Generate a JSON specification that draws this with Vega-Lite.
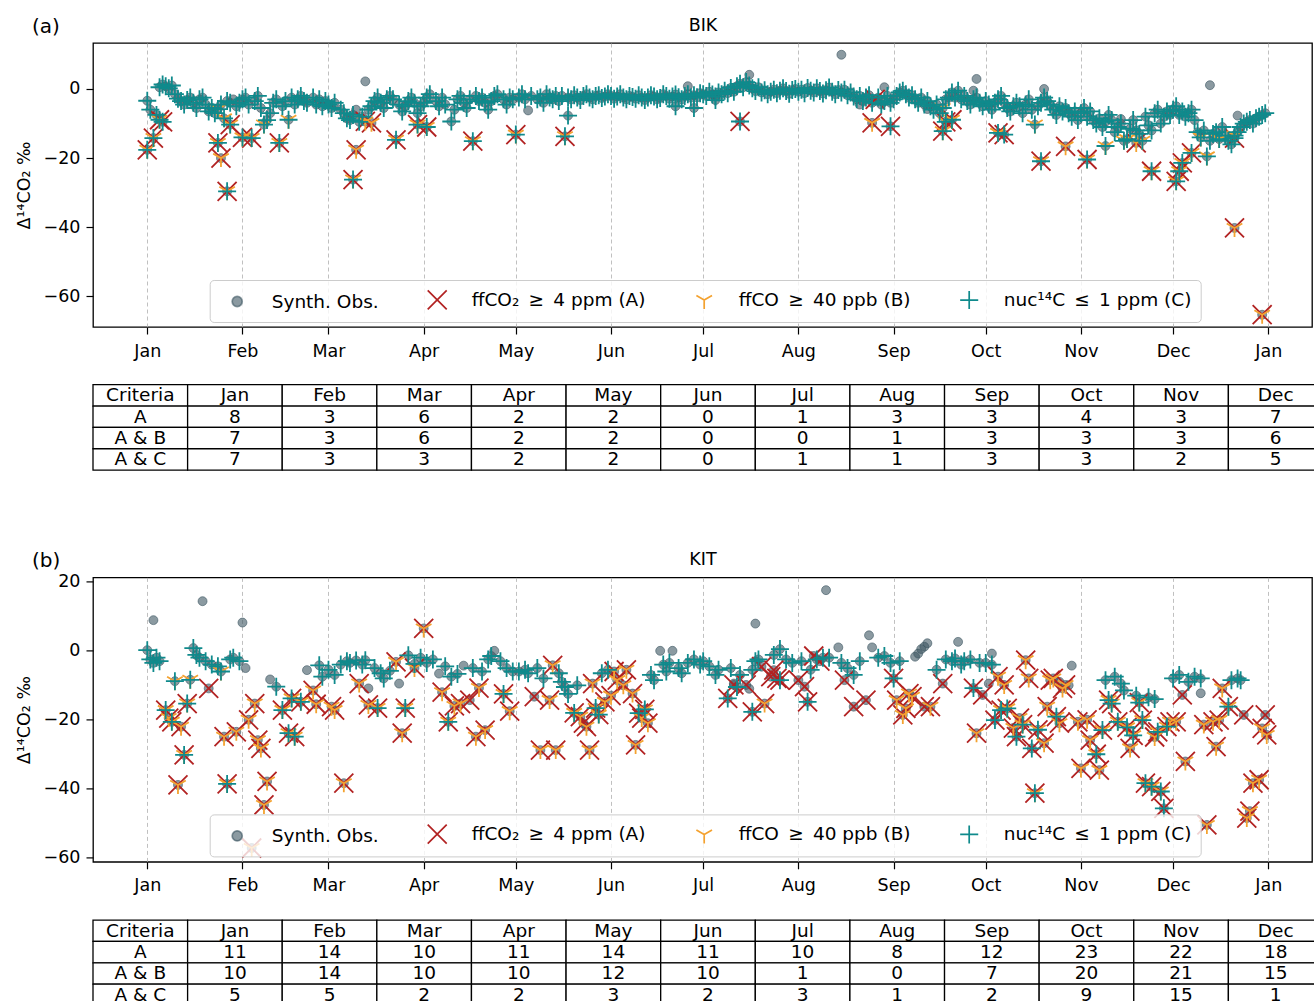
{
  "$schema": "https://vega.github.io/schema/vega-lite/v6.json",
  "background": "white",
  "padding": {"left": 14, "top": 15, "right": 0, "bottom": 0},
  "config": {
    "font": "DejaVu Sans",
    "view": {"stroke": "black", "strokeWidth": 1.3},
    "axis": {"labelFont": "DejaVu Sans", "labelFontSize": 17.5, "labelColor": "black", "titleFont": "DejaVu Sans", "titleFontSize": 17.5, "titleFontWeight": "normal", "titleColor": "black", "tickColor": "black", "tickSize": 7, "tickWidth": 1.2, "domain": false},
    "title": {"font": "DejaVu Sans", "fontSize": 20, "fontWeight": "normal", "color": "black"},
    "legend": {"orient": "none", "legendX": 116.7, "legendY": 237, "direction": "horizontal", "columns": 4, "columnPadding": 40, "symbolOffset": 8, "labelOffset": 24, "symbolSize": 361, "symbolStrokeWidth": 1.7, "symbolOpacity": 1, "labelFontSize": 18.5, "labelFont": "DejaVu Sans", "labelColor": "black", "labelLimit": 400, "padding": 9, "fillColor": "rgba(255,255,255,0.8)", "strokeColor": "#cccccc", "cornerRadius": 4}
  },
  "datasets": {
    "lg": [{"s": "Synth. Obs."}, {"s": "ffCO₂\u2002≥\u20024 ppm (A)"}, {"s": "ffCO\u2002≥\u200240 ppb (B)"}, {"s": "nuc¹⁴C\u2002≤\u20021 ppm (C)"}],
    "bik": [
      {"t":"2019-01-01","v":-3.4,"f":"C"},{"t":"2019-01-01","v":-17.6,"f":"ABC"},{"t":"2019-01-02","v":-6.0,"f":"C"},{"t":"2019-01-03","v":-14.2,"f":"ABC"},{"t":"2019-01-04","v":-7.5,"f":"C"},{"t":"2019-01-05","v":-8.9,"f":"ABC"},{"t":"2019-01-05","v":0.5,"f":"C"},{"t":"2019-01-06","v":-9.5,"f":"AC"},{"t":"2019-01-06","v":1.3,"f":"C"},{"t":"2019-01-07","v":0.8,"f":"C"},{"t":"2019-01-08","v":0.2,"f":"C"},{"t":"2019-01-09","v":1.0,"f":"C"},{"t":"2019-01-10","v":-1.5,"f":"C"},{"t":"2019-01-11","v":-2.8,"f":"C"},{"t":"2019-01-12","v":-3.5,"f":"C"},{"t":"2019-01-13","v":-4.5,"f":"C"},{"t":"2019-01-14","v":-3.2,"f":"C"},{"t":"2019-01-15","v":-2.5,"f":"C"},{"t":"2019-01-16","v":-4.0,"f":"C"},{"t":"2019-01-17","v":-5.5,"f":"C"},{"t":"2019-01-18","v":-3.0,"f":"C"},{"t":"2019-01-19","v":-2.5,"f":"C"},{"t":"2019-01-20","v":-4.5,"f":"C"},{"t":"2019-01-21","v":-6.5,"f":"C"},{"t":"2019-01-22","v":-5.5,"f":"C"},{"t":"2019-01-23","v":-7.0,"f":"C"},{"t":"2019-01-24","v":-15.6,"f":"ABC"},{"t":"2019-01-24","v":-5.8,"f":"BC"},{"t":"2019-01-25","v":-20.0,"f":"AB"},{"t":"2019-01-25","v":-4.5,"f":"C"},{"t":"2019-01-26","v":-8.5,"f":"BC"},{"t":"2019-01-27","v":-29.6,"f":"ABC"},{"t":"2019-01-27","v":-3.5,"f":"C"},{"t":"2019-01-28","v":-10.3,"f":"ABC"},{"t":"2019-01-28","v":-4.0,"f":"C"},{"t":"2019-01-29","v":-3.0,"f":""},{"t":"2019-01-30","v":-5.0,"f":"C"},{"t":"2019-01-31","v":-4.0,"f":"C"},
      {"t":"2019-02-01","v":-14.0,"f":"ABC"},{"t":"2019-02-01","v":-3.0,"f":"C"},{"t":"2019-02-02","v":-2.5,"f":"C"},{"t":"2019-02-03","v":-4.5,"f":"C"},{"t":"2019-02-04","v":-14.2,"f":"ABC"},{"t":"2019-02-05","v":-3.5,"f":"C"},{"t":"2019-02-06","v":-2.0,"f":"C"},{"t":"2019-02-07","v":-5.5,"f":"C"},{"t":"2019-02-08","v":-10.3,"f":"BC"},{"t":"2019-02-09","v":-9.0,"f":"C"},{"t":"2019-02-10","v":-7.0,"f":"C"},{"t":"2019-02-11","v":-4.0,"f":"C"},{"t":"2019-02-12","v":-3.0,"f":"C"},{"t":"2019-02-13","v":-15.6,"f":"ABC"},{"t":"2019-02-14","v":-5.0,"f":"C"},{"t":"2019-02-15","v":-3.5,"f":"C"},{"t":"2019-02-16","v":-8.9,"f":"BC"},{"t":"2019-02-17","v":-2.5,"f":"C"},{"t":"2019-02-18","v":-4.5,"f":"C"},{"t":"2019-02-19","v":-3.0,"f":"C"},{"t":"2019-02-20","v":-2.0,"f":"C"},{"t":"2019-02-21","v":-3.5,"f":"C"},{"t":"2019-02-22","v":-4.0,"f":"C"},{"t":"2019-02-24","v":-2.5,"f":"C"},{"t":"2019-02-25","v":-4.5,"f":"C"},{"t":"2019-02-26","v":-3.0,"f":"C"},{"t":"2019-02-27","v":-5.0,"f":"C"},{"t":"2019-02-28","v":-3.5,"f":"C"},
      {"t":"2019-03-01","v":-4.5,"f":"C"},{"t":"2019-03-02","v":-5.5,"f":"C"},{"t":"2019-03-03","v":-4.0,"f":"C"},{"t":"2019-03-05","v":-6.0,"f":"C"},{"t":"2019-03-06","v":-7.0,"f":"C"},{"t":"2019-03-07","v":-8.5,"f":"C"},{"t":"2019-03-08","v":-9.0,"f":"C"},{"t":"2019-03-09","v":-26.2,"f":"ABC"},{"t":"2019-03-09","v":-7.5,"f":"C"},{"t":"2019-03-10","v":-17.6,"f":"AB"},{"t":"2019-03-10","v":-6.0,"f":""},{"t":"2019-03-11","v":-9.5,"f":"C"},{"t":"2019-03-12","v":-8.0,"f":"C"},{"t":"2019-03-13","v":-9.4,"f":"AB"},{"t":"2019-03-13","v":2.2,"f":""},{"t":"2019-03-14","v":-6.0,"f":"C"},{"t":"2019-03-15","v":-9.8,"f":"AB"},{"t":"2019-03-15","v":-5.0,"f":"C"},{"t":"2019-03-16","v":-3.5,"f":"C"},{"t":"2019-03-17","v":-2.5,"f":"C"},{"t":"2019-03-18","v":-4.0,"f":"C"},{"t":"2019-03-19","v":-5.5,"f":"C"},{"t":"2019-03-20","v":-3.0,"f":"C"},{"t":"2019-03-21","v":-2.0,"f":"C"},{"t":"2019-03-22","v":-3.0,"f":"C"},{"t":"2019-03-23","v":-14.7,"f":"ABC"},{"t":"2019-03-24","v":-4.5,"f":"C"},{"t":"2019-03-25","v":-6.5,"f":"C"},{"t":"2019-03-26","v":-5.0,"f":"C"},{"t":"2019-03-27","v":-3.5,"f":"C"},{"t":"2019-03-28","v":-2.5,"f":"C"},{"t":"2019-03-29","v":-4.0,"f":"C"},{"t":"2019-03-30","v":-10.3,"f":"ABC"},{"t":"2019-03-30","v":-7.0,"f":"C"},{"t":"2019-03-31","v":-5.0,"f":"C"},
      {"t":"2019-04-01","v":-4.0,"f":"C"},{"t":"2019-04-02","v":-11.0,"f":"ABC"},{"t":"2019-04-02","v":-2.5,"f":"C"},{"t":"2019-04-03","v":-1.5,"f":"C"},{"t":"2019-04-05","v":-3.5,"f":"C"},{"t":"2019-04-06","v":-5.0,"f":"C"},{"t":"2019-04-07","v":-2.5,"f":"C"},{"t":"2019-04-08","v":-4.5,"f":"C"},{"t":"2019-04-10","v":-9.4,"f":"C"},{"t":"2019-04-11","v":-6.0,"f":"C"},{"t":"2019-04-12","v":-3.0,"f":"C"},{"t":"2019-04-13","v":-2.0,"f":"C"},{"t":"2019-04-14","v":-4.0,"f":"C"},{"t":"2019-04-15","v":-5.5,"f":"C"},{"t":"2019-04-16","v":-3.0,"f":"C"},{"t":"2019-04-17","v":-15.1,"f":"ABC"},{"t":"2019-04-18","v":-2.0,"f":"C"},{"t":"2019-04-19","v":-3.5,"f":"C"},{"t":"2019-04-20","v":-2.5,"f":"C"},{"t":"2019-04-21","v":-4.0,"f":"C"},{"t":"2019-04-22","v":-6.0,"f":"C"},{"t":"2019-04-23","v":-3.5,"f":"C"},{"t":"2019-04-24","v":-2.0,"f":"C"},{"t":"2019-04-25","v":-1.5,"f":"C"},{"t":"2019-04-27","v":-3.0,"f":"C"},{"t":"2019-04-28","v":-4.5,"f":"C"},{"t":"2019-04-29","v":-2.5,"f":"C"},{"t":"2019-04-30","v":-3.0,"f":"C"},
      {"t":"2019-05-01","v":-13.2,"f":"ABC"},{"t":"2019-05-02","v":-2.5,"f":"C"},{"t":"2019-05-03","v":-1.5,"f":"C"},{"t":"2019-05-04","v":-3.0,"f":"C"},{"t":"2019-05-05","v":-6.2,"f":""},{"t":"2019-05-06","v":-2.0,"f":"C"},{"t":"2019-05-08","v":-3.0,"f":"C"},{"t":"2019-05-09","v":-2.5,"f":"C"},{"t":"2019-05-10","v":-4.0,"f":"C"},{"t":"2019-05-11","v":-1.5,"f":"C"},{"t":"2019-05-12","v":-2.5,"f":"C"},{"t":"2019-05-13","v":-3.0,"f":"C"},{"t":"2019-05-14","v":-2.0,"f":"C"},{"t":"2019-05-15","v":-3.5,"f":"C"},{"t":"2019-05-16","v":-2.0,"f":"C"},{"t":"2019-05-17","v":-13.7,"f":"ABC"},{"t":"2019-05-18","v":-7.7,"f":"C"},{"t":"2019-05-18","v":-2.5,"f":"C"},{"t":"2019-05-19","v":-3.0,"f":"C"},{"t":"2019-05-20","v":-1.8,"f":"C"},{"t":"2019-05-21","v":-2.5,"f":"C"},{"t":"2019-05-22","v":-3.2,"f":"C"},{"t":"2019-05-23","v":-2.0,"f":"C"},{"t":"2019-05-24","v":-1.5,"f":"C"},{"t":"2019-05-25","v":-2.5,"f":"C"},{"t":"2019-05-26","v":-3.0,"f":"C"},{"t":"2019-05-27","v":-2.0,"f":"C"},{"t":"2019-05-28","v":-1.8,"f":"C"},{"t":"2019-05-29","v":-2.6,"f":"C"},{"t":"2019-05-30","v":-2.2,"f":"C"},{"t":"2019-05-31","v":-1.5,"f":"C"},
      {"t":"2019-06-01","v":-2.0,"f":"C"},{"t":"2019-06-02","v":-2.8,"f":"C"},{"t":"2019-06-03","v":-2.2,"f":"C"},{"t":"2019-06-04","v":-1.5,"f":"C"},{"t":"2019-06-05","v":-2.5,"f":"C"},{"t":"2019-06-06","v":-3.0,"f":"C"},{"t":"2019-06-07","v":-2.0,"f":"C"},{"t":"2019-06-08","v":-2.3,"f":"C"},{"t":"2019-06-09","v":-2.8,"f":"C"},{"t":"2019-06-10","v":-1.8,"f":"C"},{"t":"2019-06-11","v":-2.5,"f":"C"},{"t":"2019-06-12","v":-3.2,"f":"C"},{"t":"2019-06-13","v":-2.5,"f":"C"},{"t":"2019-06-14","v":-1.8,"f":"C"},{"t":"2019-06-15","v":-2.2,"f":"C"},{"t":"2019-06-16","v":-3.0,"f":"C"},{"t":"2019-06-17","v":-2.6,"f":"C"},{"t":"2019-06-18","v":-1.5,"f":"C"},{"t":"2019-06-19","v":-2.0,"f":"C"},{"t":"2019-06-20","v":-2.8,"f":"C"},{"t":"2019-06-21","v":-2.2,"f":"C"},{"t":"2019-06-22","v":-5.0,"f":"C"},{"t":"2019-06-22","v":-1.6,"f":"C"},{"t":"2019-06-23","v":-2.4,"f":"C"},{"t":"2019-06-24","v":-3.0,"f":"C"},{"t":"2019-06-25","v":-2.0,"f":"C"},{"t":"2019-06-26","v":0.8,"f":""},{"t":"2019-06-26","v":-1.5,"f":"C"},{"t":"2019-06-27","v":-2.5,"f":"C"},{"t":"2019-06-28","v":-5.5,"f":"C"},{"t":"2019-06-28","v":-1.8,"f":"C"},{"t":"2019-06-29","v":-2.4,"f":"C"},{"t":"2019-06-30","v":-1.2,"f":"C"},
      {"t":"2019-07-01","v":-1.5,"f":"C"},{"t":"2019-07-02","v":-2.0,"f":"C"},{"t":"2019-07-03","v":-0.8,"f":"C"},{"t":"2019-07-04","v":-1.6,"f":"C"},{"t":"2019-07-05","v":-3.2,"f":"C"},{"t":"2019-07-05","v":-2.2,"f":"C"},{"t":"2019-07-06","v":-1.0,"f":"C"},{"t":"2019-07-07","v":-1.5,"f":"C"},{"t":"2019-07-08","v":-0.5,"f":"C"},{"t":"2019-07-09","v":-1.2,"f":"C"},{"t":"2019-07-10","v":0.3,"f":"C"},{"t":"2019-07-11","v":-0.8,"f":"C"},{"t":"2019-07-12","v":0.8,"f":"C"},{"t":"2019-07-13","v":1.5,"f":"C"},{"t":"2019-07-13","v":-9.4,"f":"AC"},{"t":"2019-07-14","v":0.5,"f":"C"},{"t":"2019-07-15","v":2.0,"f":"C"},{"t":"2019-07-16","v":4.1,"f":""},{"t":"2019-07-16","v":1.0,"f":"C"},{"t":"2019-07-17","v":0.2,"f":"C"},{"t":"2019-07-18","v":-0.6,"f":"C"},{"t":"2019-07-19","v":0.5,"f":"C"},{"t":"2019-07-20","v":-1.0,"f":"C"},{"t":"2019-07-21","v":-0.4,"f":"C"},{"t":"2019-07-22","v":-1.5,"f":"C"},{"t":"2019-07-23","v":-0.8,"f":"C"},{"t":"2019-07-24","v":-0.2,"f":"C"},{"t":"2019-07-25","v":-1.2,"f":"C"},{"t":"2019-07-26","v":-0.5,"f":"C"},{"t":"2019-07-27","v":0.2,"f":"C"},{"t":"2019-07-28","v":-0.6,"f":"C"},{"t":"2019-07-29","v":-1.4,"f":"C"},{"t":"2019-07-30","v":-0.3,"f":"C"},{"t":"2019-07-31","v":0.0,"f":"C"},
      {"t":"2019-08-01","v":-0.8,"f":"C"},{"t":"2019-08-02","v":-0.2,"f":"C"},{"t":"2019-08-03","v":-1.2,"f":"C"},{"t":"2019-08-04","v":0.3,"f":"C"},{"t":"2019-08-05","v":-0.5,"f":"C"},{"t":"2019-08-06","v":-1.0,"f":"C"},{"t":"2019-08-07","v":0.2,"f":"C"},{"t":"2019-08-08","v":-0.6,"f":"C"},{"t":"2019-08-09","v":-1.3,"f":"C"},{"t":"2019-08-10","v":-0.4,"f":"C"},{"t":"2019-08-11","v":0.4,"f":"C"},{"t":"2019-08-12","v":-0.8,"f":"C"},{"t":"2019-08-13","v":-1.5,"f":"C"},{"t":"2019-08-14","v":-0.3,"f":"C"},{"t":"2019-08-15","v":9.9,"f":""},{"t":"2019-08-15","v":-1.0,"f":"C"},{"t":"2019-08-16","v":-0.2,"f":"C"},{"t":"2019-08-17","v":-1.8,"f":"C"},{"t":"2019-08-18","v":-1.0,"f":"C"},{"t":"2019-08-19","v":-2.2,"f":"C"},{"t":"2019-08-20","v":-3.0,"f":"C"},{"t":"2019-08-21","v":-4.5,"f":""},{"t":"2019-08-21","v":-2.0,"f":"C"},{"t":"2019-08-22","v":-3.5,"f":"C"},{"t":"2019-08-23","v":-2.5,"f":"C"},{"t":"2019-08-24","v":-1.8,"f":"C"},{"t":"2019-08-25","v":-9.8,"f":"AB"},{"t":"2019-08-25","v":-4.0,"f":"C"},{"t":"2019-08-26","v":-3.0,"f":"A"},{"t":"2019-08-27","v":-2.5,"f":"C"},{"t":"2019-08-28","v":-4.5,"f":"C"},{"t":"2019-08-29","v":0.5,"f":""},{"t":"2019-08-29","v":-3.5,"f":"C"},{"t":"2019-08-30","v":-2.0,"f":"C"},{"t":"2019-08-31","v":-10.8,"f":"AC"},{"t":"2019-08-31","v":-4.0,"f":"C"},
      {"t":"2019-09-01","v":-3.0,"f":"C"},{"t":"2019-09-02","v":-2.0,"f":"C"},{"t":"2019-09-03","v":-1.0,"f":"C"},{"t":"2019-09-04","v":-0.5,"f":"C"},{"t":"2019-09-05","v":-1.5,"f":"C"},{"t":"2019-09-06","v":-2.5,"f":"C"},{"t":"2019-09-07","v":-1.8,"f":"C"},{"t":"2019-09-08","v":-3.0,"f":"C"},{"t":"2019-09-09","v":-4.0,"f":"C"},{"t":"2019-09-10","v":-2.5,"f":"C"},{"t":"2019-09-11","v":-4.5,"f":"C"},{"t":"2019-09-12","v":-5.8,"f":""},{"t":"2019-09-12","v":-3.5,"f":"C"},{"t":"2019-09-13","v":-5.0,"f":"C"},{"t":"2019-09-14","v":-6.0,"f":"C"},{"t":"2019-09-15","v":-4.5,"f":"C"},{"t":"2019-09-16","v":-7.0,"f":"C"},{"t":"2019-09-17","v":-12.2,"f":"ABC"},{"t":"2019-09-17","v":-5.5,"f":"BC"},{"t":"2019-09-18","v":-9.5,"f":"ABC"},{"t":"2019-09-18","v":-3.0,"f":"C"},{"t":"2019-09-19","v":-2.5,"f":"C"},{"t":"2019-09-20","v":-8.9,"f":"ABC"},{"t":"2019-09-20","v":-1.0,"f":"C"},{"t":"2019-09-21","v":-2.5,"f":"C"},{"t":"2019-09-22","v":-0.5,"f":"C"},{"t":"2019-09-23","v":-3.0,"f":"C"},{"t":"2019-09-24","v":-2.0,"f":"C"},{"t":"2019-09-25","v":-3.5,"f":"C"},{"t":"2019-09-26","v":-4.5,"f":"C"},{"t":"2019-09-27","v":-0.5,"f":""},{"t":"2019-09-27","v":-3.0,"f":"C"},{"t":"2019-09-28","v":2.9,"f":""},{"t":"2019-09-28","v":-2.5,"f":"C"},{"t":"2019-09-29","v":-4.0,"f":"C"},{"t":"2019-09-30","v":-5.0,"f":"C"},
      {"t":"2019-10-01","v":-3.5,"f":"C"},{"t":"2019-10-02","v":-4.5,"f":"C"},{"t":"2019-10-03","v":-6.0,"f":"C"},{"t":"2019-10-04","v":-4.0,"f":"C"},{"t":"2019-10-05","v":-12.7,"f":"ABC"},{"t":"2019-10-05","v":-3.0,"f":"C"},{"t":"2019-10-06","v":-2.0,"f":"C"},{"t":"2019-10-07","v":-13.2,"f":"AC"},{"t":"2019-10-07","v":-4.0,"f":"C"},{"t":"2019-10-08","v":-5.5,"f":"C"},{"t":"2019-10-09","v":-6.5,"f":"C"},{"t":"2019-10-10","v":-5.0,"f":"C"},{"t":"2019-10-11","v":-4.0,"f":"C"},{"t":"2019-10-12","v":-5.0,"f":"C"},{"t":"2019-10-13","v":-7.0,"f":"C"},{"t":"2019-10-14","v":-4.5,"f":"C"},{"t":"2019-10-15","v":-3.0,"f":"C"},{"t":"2019-10-16","v":-6.0,"f":"C"},{"t":"2019-10-17","v":-10.3,"f":"BC"},{"t":"2019-10-18","v":-5.0,"f":"C"},{"t":"2019-10-19","v":-20.9,"f":"ABC"},{"t":"2019-10-19","v":-4.0,"f":"C"},{"t":"2019-10-20","v":0.0,"f":""},{"t":"2019-10-20","v":-2.5,"f":"C"},{"t":"2019-10-21","v":-3.5,"f":"C"},{"t":"2019-10-22","v":-4.5,"f":"C"},{"t":"2019-10-23","v":-6.0,"f":"C"},{"t":"2019-10-24","v":-7.5,"f":"C"},{"t":"2019-10-25","v":-5.0,"f":"C"},{"t":"2019-10-26","v":-6.5,"f":"C"},{"t":"2019-10-27","v":-16.6,"f":"AB"},{"t":"2019-10-27","v":-5.5,"f":"C"},{"t":"2019-10-28","v":-7.0,"f":"C"},{"t":"2019-10-29","v":-8.0,"f":"C"},{"t":"2019-10-30","v":-6.5,"f":"C"},{"t":"2019-10-31","v":-9.0,"f":"C"},
      {"t":"2019-11-01","v":-7.0,"f":"C"},{"t":"2019-11-02","v":-5.5,"f":"C"},{"t":"2019-11-03","v":-20.4,"f":"ABC"},{"t":"2019-11-03","v":-8.0,"f":"C"},{"t":"2019-11-04","v":-6.5,"f":"C"},{"t":"2019-11-05","v":-9.0,"f":"C"},{"t":"2019-11-06","v":-10.0,"f":"C"},{"t":"2019-11-07","v":-8.5,"f":"C"},{"t":"2019-11-08","v":-11.0,"f":"C"},{"t":"2019-11-09","v":-16.5,"f":"BC"},{"t":"2019-11-09","v":-9.5,"f":"C"},{"t":"2019-11-10","v":-7.5,"f":"C"},{"t":"2019-11-11","v":-9.0,"f":"C"},{"t":"2019-11-12","v":-12.5,"f":"C"},{"t":"2019-11-13","v":-11.0,"f":"C"},{"t":"2019-11-14","v":-8.7,"f":""},{"t":"2019-11-14","v":-10.0,"f":"C"},{"t":"2019-11-15","v":-15.0,"f":"BC"},{"t":"2019-11-16","v":-14.5,"f":"BC"},{"t":"2019-11-17","v":-11.5,"f":"C"},{"t":"2019-11-18","v":-9.0,"f":"C"},{"t":"2019-11-19","v":-15.6,"f":"AB"},{"t":"2019-11-19","v":-12.0,"f":"C"},{"t":"2019-11-20","v":-13.0,"f":"C"},{"t":"2019-11-21","v":-15.0,"f":"BC"},{"t":"2019-11-22","v":-8.0,"f":"C"},{"t":"2019-11-23","v":-10.5,"f":"C"},{"t":"2019-11-24","v":-23.8,"f":"ABC"},{"t":"2019-11-24","v":-12.0,"f":"C"},{"t":"2019-11-25","v":-7.0,"f":"C"},{"t":"2019-11-26","v":-6.0,"f":"C"},{"t":"2019-11-27","v":-10.0,"f":"C"},{"t":"2019-11-28","v":-8.0,"f":"C"},{"t":"2019-11-29","v":-6.5,"f":"C"},{"t":"2019-11-30","v":-7.5,"f":"C"},
      {"t":"2019-12-01","v":-6.0,"f":"C"},{"t":"2019-12-02","v":-26.7,"f":"ABC"},{"t":"2019-12-02","v":-5.0,"f":"C"},{"t":"2019-12-03","v":-23.8,"f":"ABC"},{"t":"2019-12-03","v":-7.5,"f":"C"},{"t":"2019-12-04","v":-21.4,"f":"ABC"},{"t":"2019-12-04","v":-6.5,"f":"C"},{"t":"2019-12-05","v":-8.0,"f":"C"},{"t":"2019-12-06","v":-7.0,"f":"C"},{"t":"2019-12-07","v":-18.5,"f":"ABC"},{"t":"2019-12-07","v":-6.0,"f":"C"},{"t":"2019-12-08","v":-9.0,"f":"C"},{"t":"2019-12-09","v":-12.5,"f":"C"},{"t":"2019-12-10","v":-14.0,"f":"BC"},{"t":"2019-12-11","v":-12.0,"f":"C"},{"t":"2019-12-12","v":-19.5,"f":"BC"},{"t":"2019-12-13","v":1.1,"f":""},{"t":"2019-12-13","v":-15.0,"f":"C"},{"t":"2019-12-14","v":-13.0,"f":"C"},{"t":"2019-12-15","v":-12.5,"f":"C"},{"t":"2019-12-16","v":-14.5,"f":"BC"},{"t":"2019-12-17","v":-11.0,"f":"C"},{"t":"2019-12-18","v":-13.5,"f":"C"},{"t":"2019-12-19","v":-15.0,"f":"C"},{"t":"2019-12-20","v":-16.0,"f":"C"},{"t":"2019-12-21","v":-14.2,"f":"AC"},{"t":"2019-12-21","v":-40.2,"f":"AB"},{"t":"2019-12-21","v":-13.5,"f":"BC"},{"t":"2019-12-22","v":-7.7,"f":""},{"t":"2019-12-22","v":-12.5,"f":"C"},{"t":"2019-12-23","v":-11.0,"f":"C"},{"t":"2019-12-24","v":-10.0,"f":"C"},{"t":"2019-12-25","v":-9.5,"f":"C"},{"t":"2019-12-26","v":-9.0,"f":"C"},{"t":"2019-12-27","v":-10.0,"f":"C"},{"t":"2019-12-28","v":-8.5,"f":"C"},{"t":"2019-12-29","v":-8.0,"f":"C"},{"t":"2019-12-30","v":-65.3,"f":"AB"},{"t":"2019-12-30","v":-7.5,"f":"C"},{"t":"2019-12-31","v":-7.0,"f":"C"}
    ],
    "kit": [
      {"t":"2019-01-01","v":0.2,"f":"C"},{"t":"2019-01-02","v":-2.5,"f":"C"},{"t":"2019-01-03","v":8.9,"f":""},{"t":"2019-01-03","v":-3.5,"f":"C"},{"t":"2019-01-04","v":-2.0,"f":"C"},{"t":"2019-01-05","v":-3.0,"f":"C"},{"t":"2019-01-07","v":-17.2,"f":"ABC"},{"t":"2019-01-08","v":-19.5,"f":"AB"},{"t":"2019-01-09","v":-20.6,"f":"ABC"},{"t":"2019-01-10","v":-8.8,"f":"BC"},{"t":"2019-01-11","v":-38.9,"f":"AB"},{"t":"2019-01-12","v":-22.0,"f":"AB"},{"t":"2019-01-13","v":-30.2,"f":"ABC"},{"t":"2019-01-14","v":-15.3,"f":"ABC"},{"t":"2019-01-15","v":-8.4,"f":"BC"},{"t":"2019-01-16","v":0.8,"f":"C"},{"t":"2019-01-17","v":-1.2,"f":"C"},{"t":"2019-01-18","v":-2.0,"f":"C"},{"t":"2019-01-19","v":14.4,"f":""},{"t":"2019-01-20","v":-3.0,"f":"C"},{"t":"2019-01-21","v":-10.9,"f":"A"},{"t":"2019-01-22","v":-4.0,"f":"C"},{"t":"2019-01-24","v":-4.5,"f":"C"},{"t":"2019-01-25","v":-6.0,"f":"BC"},{"t":"2019-01-26","v":-24.9,"f":"AB"},{"t":"2019-01-27","v":-38.6,"f":"ABC"},{"t":"2019-01-28","v":-2.5,"f":"C"},{"t":"2019-01-29","v":-2.0,"f":"C"},{"t":"2019-01-30","v":-23.5,"f":"AB"},{"t":"2019-01-31","v":-3.0,"f":"C"},
      {"t":"2019-02-01","v":8.2,"f":""},{"t":"2019-02-02","v":-5.0,"f":""},{"t":"2019-02-03","v":-20.0,"f":"AB"},{"t":"2019-02-04","v":-57.2,"f":"AB"},{"t":"2019-02-05","v":-15.3,"f":"AB"},{"t":"2019-02-06","v":-25.9,"f":"AB"},{"t":"2019-02-07","v":-28.3,"f":"AB"},{"t":"2019-02-08","v":-44.7,"f":"AB"},{"t":"2019-02-09","v":-37.9,"f":"AB"},{"t":"2019-02-10","v":-8.3,"f":""},{"t":"2019-02-12","v":-10.4,"f":"C"},{"t":"2019-02-14","v":-17.2,"f":"ABC"},{"t":"2019-02-16","v":-23.9,"f":"ABC"},{"t":"2019-02-17","v":-13.8,"f":"ABC"},{"t":"2019-02-18","v":-24.9,"f":"ABC"},{"t":"2019-02-20","v":-14.8,"f":"ABC"},{"t":"2019-02-22","v":-5.6,"f":""},{"t":"2019-02-24","v":-11.5,"f":"AB"},{"t":"2019-02-25","v":-15.5,"f":"AB"},{"t":"2019-02-26","v":-4.2,"f":"C"},{"t":"2019-02-27","v":-7.5,"f":"C"},
      {"t":"2019-03-01","v":-5.5,"f":"C"},{"t":"2019-03-02","v":-16.2,"f":"AB"},{"t":"2019-03-03","v":-17.2,"f":"AB"},{"t":"2019-03-03","v":-7.0,"f":"C"},{"t":"2019-03-05","v":-4.0,"f":"C"},{"t":"2019-03-06","v":-38.4,"f":"AB"},{"t":"2019-03-07","v":-3.0,"f":"C"},{"t":"2019-03-08","v":-3.5,"f":"C"},{"t":"2019-03-10","v":-2.8,"f":"C"},{"t":"2019-03-11","v":-9.5,"f":"AB"},{"t":"2019-03-12","v":-4.0,"f":"C"},{"t":"2019-03-13","v":-2.7,"f":"C"},{"t":"2019-03-14","v":-15.7,"f":"AB"},{"t":"2019-03-14","v":-10.9,"f":""},{"t":"2019-03-16","v":-5.0,"f":"C"},{"t":"2019-03-17","v":-16.6,"f":"ABC"},{"t":"2019-03-18","v":-6.5,"f":"C"},{"t":"2019-03-19","v":-8.0,"f":"C"},{"t":"2019-03-21","v":-5.8,"f":"C"},{"t":"2019-03-23","v":-3.2,"f":"AB"},{"t":"2019-03-24","v":-9.5,"f":""},{"t":"2019-03-25","v":-23.9,"f":"AB"},{"t":"2019-03-26","v":-16.6,"f":"ABC"},{"t":"2019-03-27","v":-1.3,"f":"C"},{"t":"2019-03-29","v":-5.0,"f":"AB"},{"t":"2019-03-29","v":-3.8,"f":"C"},{"t":"2019-03-31","v":-2.0,"f":"C"},
      {"t":"2019-04-01","v":6.5,"f":"AB"},{"t":"2019-04-02","v":-3.5,"f":"C"},{"t":"2019-04-04","v":-2.5,"f":"C"},{"t":"2019-04-06","v":-6.6,"f":""},{"t":"2019-04-07","v":-12.0,"f":"AB"},{"t":"2019-04-08","v":-4.5,"f":"C"},{"t":"2019-04-09","v":-20.6,"f":"ABC"},{"t":"2019-04-10","v":-7.5,"f":"C"},{"t":"2019-04-11","v":-16.0,"f":"AB"},{"t":"2019-04-12","v":-6.7,"f":"C"},{"t":"2019-04-13","v":-15.3,"f":"AB"},{"t":"2019-04-14","v":-4.3,"f":""},{"t":"2019-04-16","v":-14.3,"f":"A"},{"t":"2019-04-17","v":-5.0,"f":"C"},{"t":"2019-04-18","v":-24.9,"f":"AB"},{"t":"2019-04-19","v":-10.8,"f":"AB"},{"t":"2019-04-20","v":-6.0,"f":"C"},{"t":"2019-04-21","v":-23.0,"f":"AB"},{"t":"2019-04-22","v":-2.5,"f":"C"},{"t":"2019-04-23","v":-1.5,"f":"C"},{"t":"2019-04-24","v":0.0,"f":""},{"t":"2019-04-26","v":-3.0,"f":"C"},{"t":"2019-04-27","v":-12.5,"f":"ABC"},{"t":"2019-04-28","v":-5.0,"f":"C"},{"t":"2019-04-29","v":-17.5,"f":"AB"},{"t":"2019-04-30","v":-6.0,"f":"C"},
      {"t":"2019-05-02","v":-6.0,"f":"C"},{"t":"2019-05-04","v":-5.5,"f":"C"},{"t":"2019-05-05","v":-6.5,"f":"C"},{"t":"2019-05-07","v":-13.3,"f":"A"},{"t":"2019-05-08","v":-5.0,"f":"C"},{"t":"2019-05-09","v":-28.8,"f":"AB"},{"t":"2019-05-10","v":-8.0,"f":"C"},{"t":"2019-05-12","v":-14.3,"f":"AB"},{"t":"2019-05-13","v":-4.2,"f":"AB"},{"t":"2019-05-14","v":-28.8,"f":"AB"},{"t":"2019-05-15","v":-6.5,"f":"C"},{"t":"2019-05-16","v":-9.0,"f":"C"},{"t":"2019-05-17","v":-10.5,"f":"C"},{"t":"2019-05-18","v":-12.5,"f":"C"},{"t":"2019-05-20","v":-18.0,"f":"ABC"},{"t":"2019-05-21","v":-10.0,"f":"C"},{"t":"2019-05-22","v":-19.1,"f":"AB"},{"t":"2019-05-23","v":-21.0,"f":"A"},{"t":"2019-05-24","v":-22.0,"f":"AB"},{"t":"2019-05-25","v":-28.8,"f":"AB"},{"t":"2019-05-26","v":-9.5,"f":"AB"},{"t":"2019-05-27","v":-16.6,"f":"ABC"},{"t":"2019-05-28","v":-18.5,"f":"ABC"},{"t":"2019-05-29","v":-6.5,"f":"C"},{"t":"2019-05-30","v":-14.8,"f":"AB"},{"t":"2019-05-31","v":-5.5,"f":"C"},
      {"t":"2019-06-01","v":-13.0,"f":"AB"},{"t":"2019-06-02","v":-6.0,"f":"AB"},{"t":"2019-06-03","v":-8.5,"f":"AB"},{"t":"2019-06-05","v":-10.0,"f":"AB"},{"t":"2019-06-06","v":-5.5,"f":"AB"},{"t":"2019-06-08","v":-12.4,"f":"AB"},{"t":"2019-06-09","v":-27.3,"f":"AB"},{"t":"2019-06-10","v":-18.1,"f":"AC"},{"t":"2019-06-11","v":-19.5,"f":"AB"},{"t":"2019-06-12","v":-17.0,"f":"ABC"},{"t":"2019-06-13","v":-21.0,"f":"AB"},{"t":"2019-06-14","v":-7.0,"f":"C"},{"t":"2019-06-15","v":-8.5,"f":"C"},{"t":"2019-06-17","v":0.0,"f":""},{"t":"2019-06-18","v":-4.0,"f":"C"},{"t":"2019-06-19","v":-6.0,"f":"C"},{"t":"2019-06-20","v":-3.5,"f":"C"},{"t":"2019-06-21","v":0.0,"f":""},{"t":"2019-06-23","v":-5.0,"f":"C"},{"t":"2019-06-24","v":-6.5,"f":"C"},{"t":"2019-06-26","v":-3.5,"f":"C"},{"t":"2019-06-28","v":-2.5,"f":"C"},{"t":"2019-06-30","v":-4.0,"f":"C"},
      {"t":"2019-07-01","v":-3.0,"f":"C"},{"t":"2019-07-03","v":-4.5,"f":"C"},{"t":"2019-07-05","v":-7.0,"f":"C"},{"t":"2019-07-06","v":-5.5,"f":"C"},{"t":"2019-07-09","v":-13.8,"f":"AC"},{"t":"2019-07-10","v":-5.0,"f":"C"},{"t":"2019-07-11","v":-9.9,"f":"A"},{"t":"2019-07-11","v":-9.5,"f":""},{"t":"2019-07-12","v":-10.5,"f":"C"},{"t":"2019-07-13","v":-7.0,"f":"C"},{"t":"2019-07-15","v":-9.9,"f":"A"},{"t":"2019-07-16","v":-11.0,"f":""},{"t":"2019-07-17","v":-17.7,"f":"AC"},{"t":"2019-07-17","v":-5.5,"f":"C"},{"t":"2019-07-18","v":7.9,"f":""},{"t":"2019-07-18","v":-3.0,"f":"C"},{"t":"2019-07-19","v":-2.5,"f":"C"},{"t":"2019-07-20","v":-4.6,"f":"A"},{"t":"2019-07-21","v":-15.3,"f":"AB"},{"t":"2019-07-23","v":-7.5,"f":"A"},{"t":"2019-07-24","v":-5.6,"f":"A"},{"t":"2019-07-24","v":-1.2,"f":"C"},{"t":"2019-07-25","v":-8.0,"f":"A"},{"t":"2019-07-26","v":-8.5,"f":"AC"},{"t":"2019-07-26","v":0.5,"f":"C"},{"t":"2019-07-28","v":-2.5,"f":"C"},{"t":"2019-07-30","v":-3.5,"f":"C"},
      {"t":"2019-08-01","v":-8.5,"f":"A"},{"t":"2019-08-02","v":-3.0,"f":"C"},{"t":"2019-08-03","v":-10.4,"f":"A"},{"t":"2019-08-04","v":-14.8,"f":"AC"},{"t":"2019-08-05","v":-5.5,"f":"C"},{"t":"2019-08-06","v":-1.5,"f":"A"},{"t":"2019-08-07","v":-2.5,"f":"C"},{"t":"2019-08-08","v":-3.0,"f":"A"},{"t":"2019-08-09","v":-2.0,"f":"C"},{"t":"2019-08-10","v":17.6,"f":""},{"t":"2019-08-11","v":-2.0,"f":"C"},{"t":"2019-08-14","v":1.0,"f":""},{"t":"2019-08-15","v":-3.5,"f":"C"},{"t":"2019-08-16","v":-8.5,"f":"A"},{"t":"2019-08-17","v":-5.0,"f":"C"},{"t":"2019-08-19","v":-16.2,"f":"A"},{"t":"2019-08-19","v":-7.0,"f":"C"},{"t":"2019-08-21","v":-3.0,"f":"C"},{"t":"2019-08-23","v":-14.3,"f":"A"},{"t":"2019-08-24","v":4.5,"f":""},{"t":"2019-08-25","v":1.0,"f":""},{"t":"2019-08-27","v":-2.0,"f":"C"},{"t":"2019-08-29","v":-1.5,"f":"C"},{"t":"2019-08-31","v":-3.5,"f":"C"},
      {"t":"2019-09-01","v":-8.0,"f":"AC"},{"t":"2019-09-02","v":-14.3,"f":"AB"},{"t":"2019-09-03","v":-3.0,"f":"C"},{"t":"2019-09-04","v":-18.6,"f":"AB"},{"t":"2019-09-05","v":-16.7,"f":"AB"},{"t":"2019-09-06","v":-12.4,"f":"AB"},{"t":"2019-09-07","v":-13.3,"f":"AB"},{"t":"2019-09-08","v":-1.7,"f":""},{"t":"2019-09-09","v":-0.8,"f":""},{"t":"2019-09-10","v":0.5,"f":""},{"t":"2019-09-11","v":-16.2,"f":"A"},{"t":"2019-09-11","v":1.2,"f":""},{"t":"2019-09-12","v":2.2,"f":""},{"t":"2019-09-13","v":-16.2,"f":"AB"},{"t":"2019-09-15","v":-5.5,"f":"C"},{"t":"2019-09-17","v":-9.5,"f":"A"},{"t":"2019-09-18","v":-2.5,"f":"C"},{"t":"2019-09-20","v":-3.0,"f":"C"},{"t":"2019-09-21","v":-2.2,"f":"C"},{"t":"2019-09-22","v":2.6,"f":""},{"t":"2019-09-23","v":-4.0,"f":"C"},{"t":"2019-09-24","v":-3.0,"f":"C"},{"t":"2019-09-26","v":-2.5,"f":"C"},{"t":"2019-09-27","v":-10.8,"f":"AC"},{"t":"2019-09-28","v":-23.9,"f":"AB"},{"t":"2019-09-29","v":-3.5,"f":"C"},{"t":"2019-09-30","v":-12.8,"f":"A"},
      {"t":"2019-10-01","v":-3.5,"f":"C"},{"t":"2019-10-02","v":-9.5,"f":""},{"t":"2019-10-03","v":-0.8,"f":""},{"t":"2019-10-03","v":-4.0,"f":"C"},{"t":"2019-10-04","v":-20.1,"f":"AC"},{"t":"2019-10-05","v":-7.5,"f":"AB"},{"t":"2019-10-06","v":-17.2,"f":"ABC"},{"t":"2019-10-07","v":-9.9,"f":"AB"},{"t":"2019-10-08","v":-16.7,"f":"ABC"},{"t":"2019-10-10","v":-22.4,"f":"AB"},{"t":"2019-10-11","v":-24.9,"f":"AC"},{"t":"2019-10-12","v":-19.5,"f":"AB"},{"t":"2019-10-13","v":-21.4,"f":"ABC"},{"t":"2019-10-14","v":-2.7,"f":"AB"},{"t":"2019-10-15","v":-8.0,"f":"AB"},{"t":"2019-10-16","v":-28.3,"f":"AC"},{"t":"2019-10-17","v":-41.3,"f":"ABC"},{"t":"2019-10-18","v":-22.9,"f":"ABC"},{"t":"2019-10-20","v":-26.8,"f":"AB"},{"t":"2019-10-21","v":-16.2,"f":"AB"},{"t":"2019-10-22","v":-8.5,"f":"AB"},{"t":"2019-10-23","v":-8.0,"f":"AB"},{"t":"2019-10-24","v":-19.1,"f":"ABC"},{"t":"2019-10-25","v":-21.0,"f":"AB"},{"t":"2019-10-25","v":-9.0,"f":""},{"t":"2019-10-26","v":-10.9,"f":"AB"},{"t":"2019-10-27","v":-9.9,"f":"AB"},{"t":"2019-10-28","v":-10.0,"f":""},{"t":"2019-10-29","v":-4.3,"f":""},{"t":"2019-10-31","v":-20.6,"f":"AB"},
      {"t":"2019-11-01","v":-34.1,"f":"AB"},{"t":"2019-11-03","v":-20.0,"f":"AB"},{"t":"2019-11-04","v":-25.9,"f":"AB"},{"t":"2019-11-06","v":-30.0,"f":"ABC"},{"t":"2019-11-07","v":-34.6,"f":"AB"},{"t":"2019-11-08","v":-23.0,"f":"ABC"},{"t":"2019-11-09","v":-8.5,"f":"C"},{"t":"2019-11-10","v":-14.3,"f":"ABC"},{"t":"2019-11-11","v":-15.3,"f":"ABC"},{"t":"2019-11-12","v":-7.5,"f":"C"},{"t":"2019-11-13","v":-20.6,"f":"ABC"},{"t":"2019-11-14","v":-9.5,"f":"C"},{"t":"2019-11-15","v":-11.5,"f":"C"},{"t":"2019-11-16","v":-22.2,"f":"ABC"},{"t":"2019-11-17","v":-28.3,"f":"AB"},{"t":"2019-11-18","v":-24.5,"f":"ABC"},{"t":"2019-11-19","v":-13.0,"f":"C"},{"t":"2019-11-20","v":-15.0,"f":"ABC"},{"t":"2019-11-21","v":-20.1,"f":"ABC"},{"t":"2019-11-22","v":-38.4,"f":"ABC"},{"t":"2019-11-23","v":-13.5,"f":"C"},{"t":"2019-11-24","v":-39.4,"f":"ABC"},{"t":"2019-11-25","v":-25.0,"f":"AB"},{"t":"2019-11-25","v":-14.0,"f":"C"},{"t":"2019-11-26","v":-23.5,"f":"ABC"},{"t":"2019-11-27","v":-40.8,"f":"ABC"},{"t":"2019-11-28","v":-45.7,"f":"AC"},{"t":"2019-11-29","v":-22.0,"f":"ABC"},{"t":"2019-11-30","v":-20.6,"f":"AB"},
      {"t":"2019-12-01","v":-8.0,"f":"C"},{"t":"2019-12-02","v":-20.6,"f":"AB"},{"t":"2019-12-03","v":-7.0,"f":"C"},{"t":"2019-12-04","v":-12.8,"f":"A"},{"t":"2019-12-05","v":-32.1,"f":"AB"},{"t":"2019-12-06","v":-9.0,"f":"C"},{"t":"2019-12-08","v":-7.5,"f":"C"},{"t":"2019-12-10","v":-12.3,"f":""},{"t":"2019-12-10","v":-8.0,"f":"C"},{"t":"2019-12-11","v":-21.4,"f":"AB"},{"t":"2019-12-12","v":-50.5,"f":"AB"},{"t":"2019-12-14","v":-20.6,"f":"AB"},{"t":"2019-12-15","v":-27.8,"f":"AB"},{"t":"2019-12-16","v":-20.1,"f":"AB"},{"t":"2019-12-17","v":-10.9,"f":"AB"},{"t":"2019-12-19","v":-16.2,"f":"ABC"},{"t":"2019-12-20","v":-8.5,"f":"C"},{"t":"2019-12-22","v":-8.0,"f":"C"},{"t":"2019-12-23","v":-8.5,"f":"C"},{"t":"2019-12-24","v":-18.6,"f":"A"},{"t":"2019-12-25","v":-48.5,"f":"AB"},{"t":"2019-12-26","v":-46.5,"f":"AB"},{"t":"2019-12-27","v":-38.4,"f":"AB"},{"t":"2019-12-29","v":-37.4,"f":"AB"},{"t":"2019-12-30","v":-22.5,"f":"AB"},{"t":"2019-12-31","v":-18.6,"f":"A"},{"t":"2019-12-31T12:00:00Z","v":-24.4,"f":"AB"}
    ],
    "tabA": [
      {"row":"h","Criteria":"Criteria","Jan":"Jan","Feb":"Feb","Mar":"Mar","Apr":"Apr","May":"May","Jun":"Jun","Jul":"Jul","Aug":"Aug","Sep":"Sep","Oct":"Oct","Nov":"Nov","Dec":"Dec"},
      {"row":"A","Criteria":"A","Jan":"8","Feb":"3","Mar":"6","Apr":"2","May":"2","Jun":"0","Jul":"1","Aug":"3","Sep":"3","Oct":"4","Nov":"3","Dec":"7"},
      {"row":"AB","Criteria":"A & B","Jan":"7","Feb":"3","Mar":"6","Apr":"2","May":"2","Jun":"0","Jul":"0","Aug":"1","Sep":"3","Oct":"3","Nov":"3","Dec":"6"},
      {"row":"AC","Criteria":"A & C","Jan":"7","Feb":"3","Mar":"3","Apr":"2","May":"2","Jun":"0","Jul":"1","Aug":"1","Sep":"3","Oct":"3","Nov":"2","Dec":"5"}
    ],
    "tabB": [
      {"row":"h","Criteria":"Criteria","Jan":"Jan","Feb":"Feb","Mar":"Mar","Apr":"Apr","May":"May","Jun":"Jun","Jul":"Jul","Aug":"Aug","Sep":"Sep","Oct":"Oct","Nov":"Nov","Dec":"Dec"},
      {"row":"A","Criteria":"A","Jan":"11","Feb":"14","Mar":"10","Apr":"11","May":"14","Jun":"11","Jul":"10","Aug":"8","Sep":"12","Oct":"23","Nov":"22","Dec":"18"},
      {"row":"AB","Criteria":"A & B","Jan":"10","Feb":"14","Mar":"10","Apr":"10","May":"12","Jun":"10","Jul":"1","Aug":"0","Sep":"7","Oct":"20","Nov":"21","Dec":"15"},
      {"row":"AC","Criteria":"A & C","Jan":"5","Feb":"5","Mar":"2","Apr":"2","May":"3","Jun":"2","Jul":"3","Aug":"1","Sep":"2","Oct":"9","Nov":"15","Dec":"1"}
    ]
  },
  "spacing": 57.7,
  "bounds": "flush",
  "resolve": {"scale": {"shape": "independent", "fill": "independent", "stroke": "independent"}, "legend": {"shape": "independent", "fill": "independent", "stroke": "independent"}},
  "vconcat": [
    {
      "width": 1219,
      "height": 284,
      "title": {"text": "(a)", "anchor": "start", "frame": "group", "dx": -61, "dy": 21, "offset": 0},
      "data": {"name": "bik"},
      "resolve": {"axis": {"x": "independent"}},
      "encoding": {
        "y": {"field": "v", "type": "quantitative",
          "scale": {"domain": [-68.85, 13.3], "nice": false, "zero": false},
          "axis": {"values": [0, -20, -40, -60], "title": "Δ¹⁴CO₂ ‰", "grid": false, "labelPadding": 6, "titlePadding": 10}}
      },
      "layer": [
        {"mark": {"type": "point", "shape": "circle", "filled": true, "fill": "#3d5663", "stroke": "#3d5663", "fillOpacity": 0.6, "strokeOpacity": 0.6, "strokeWidth": 1, "size": 80, "opacity": 1, "clip": true},
         "encoding": {
           "x": {"field": "t", "type": "temporal", "title": null,
             "scale": {"type": "utc", "domain": [{"year": 2018, "month": 12, "date": 14, "hours": 8, "utc": true}, {"year": 2020, "month": 1, "date": 15, "hours": 5, "minutes": 30, "utc": true}]},
             "axis": {"labelExpr": "utcFormat(datum.value, '%b')", "tickCount": {"interval": "month", "step": 1}, "grid": true, "gridDash": [4, 3], "gridColor": "#b0b0b0", "gridWidth": 0.8, "labelPadding": 8}}}},
        {"transform": [{"filter": "indexof(datum.f, 'A') >= 0"}],
         "mark": {"type": "point", "shape": "M-1,-1L1,1M-1,1L1,-1", "filled": false, "stroke": "#b22222", "strokeWidth": 1.8, "size": 361, "opacity": 1, "clip": true},
         "encoding": {"x": {"field": "t", "type": "temporal", "axis": null}}},
        {"transform": [{"filter": "indexof(datum.f, 'B') >= 0"}],
         "mark": {"type": "point", "shape": "M0,0L0,1M0,0L-0.866,-0.5M0,0L0.866,-0.5", "filled": false, "stroke": "#f4a230", "strokeWidth": 1.8, "size": 324, "opacity": 1, "clip": true},
         "encoding": {"x": {"field": "t", "type": "temporal", "axis": null}}},
        {"transform": [{"filter": "indexof(datum.f, 'C') >= 0"}],
         "mark": {"type": "point", "shape": "M-1,0L1,0M0,-1L0,1", "filled": false, "stroke": "#0f8a8c", "strokeWidth": 1.8, "size": 324, "opacity": 1, "clip": true},
         "encoding": {"x": {"field": "t", "type": "temporal", "axis": {"orient": "top", "labels": false, "ticks": false, "domain": false, "grid": false, "title": "BIK", "titlePadding": 9}}}},
        {"data": {"name": "lg"},
         "mark": {"type": "point", "opacity": 0, "clip": true},
         "encoding": {
           "x": {"field": "t", "type": "temporal", "axis": null},
           "shape": {"field": "s", "type": "nominal", "scale": {"domain": ["Synth. Obs.", "ffCO₂\u2002≥\u20024 ppm (A)", "ffCO\u2002≥\u200240 ppb (B)", "nuc¹⁴C\u2002≤\u20021 ppm (C)"], "range": ["M0.53,0A0.53,0.53 0 1,1 -0.53,0A0.53,0.53 0 1,1 0.53,0Z", "M-1,-1L1,1M-1,1L1,-1", "M0,0L0,0.95M0,0L-0.823,-0.475M0,0L0.823,-0.475", "M-0.95,0L0.95,0M0,-0.95L0,0.95"]}, "legend": {"title": null}},
           "fill": {"field": "s", "type": "nominal", "scale": {"domain": ["Synth. Obs.", "ffCO₂\u2002≥\u20024 ppm (A)", "ffCO\u2002≥\u200240 ppb (B)", "nuc¹⁴C\u2002≤\u20021 ppm (C)"], "range": ["rgba(61,86,99,0.6)", "transparent", "transparent", "transparent"]}, "legend": {"title": null}},
           "stroke": {"field": "s", "type": "nominal", "scale": {"domain": ["Synth. Obs.", "ffCO₂\u2002≥\u20024 ppm (A)", "ffCO\u2002≥\u200240 ppb (B)", "nuc¹⁴C\u2002≤\u20021 ppm (C)"], "range": ["rgba(61,86,99,0.6)", "#b22222", "#f4a230", "#0f8a8c"]}, "legend": {"title": null}}
         }}
      ]
    },
    {
      "width": 1230,
      "height": 134.6,
      "view": {"stroke": null},
      "data": {"name": "tabA"},
      "transform": [{"fold": ["Criteria", "Jan", "Feb", "Mar", "Apr", "May", "Jun", "Jul", "Aug", "Sep", "Oct", "Nov", "Dec"], "as": ["col", "txt"]}],
      "encoding": {
        "x": {"field": "col", "type": "ordinal", "sort": ["Criteria", "Jan", "Feb", "Mar", "Apr", "May", "Jun", "Jul", "Aug", "Sep", "Oct", "Nov", "Dec"], "scale": {"paddingInner": 0, "paddingOuter": 0}, "axis": null},
        "y": {"field": "row", "type": "ordinal", "sort": ["h", "A", "AB", "AC"], "scale": {"paddingInner": 0, "paddingOuter": 0, "range": [0, 85.4]}, "axis": null}
      },
      "layer": [
        {"mark": {"type": "rect", "fill": "white", "stroke": "black", "strokeWidth": 1.3}},
        {"mark": {"type": "text", "fontSize": 18.5, "font": "DejaVu Sans", "color": "black", "align": "center", "baseline": "middle"}, "encoding": {"text": {"field": "txt"}}}
      ]
    },
    {
      "width": 1219,
      "height": 284.4,
      "title": {"text": "(b)", "anchor": "start", "frame": "group", "dx": -61, "dy": 21, "offset": 0},
      "data": {"name": "kit"},
      "resolve": {"axis": {"x": "independent"}},
      "encoding": {
        "y": {"field": "v", "type": "quantitative",
          "scale": {"domain": [-61.2, 21.3], "nice": false, "zero": false},
          "axis": {"values": [20, 0, -20, -40, -60], "title": "Δ¹⁴CO₂ ‰", "grid": false, "labelPadding": 6, "titlePadding": 10}}
      },
      "layer": [
        {"mark": {"type": "point", "shape": "circle", "filled": true, "fill": "#3d5663", "stroke": "#3d5663", "fillOpacity": 0.6, "strokeOpacity": 0.6, "strokeWidth": 1, "size": 80, "opacity": 1, "clip": true},
         "encoding": {
           "x": {"field": "t", "type": "temporal", "title": null,
             "scale": {"type": "utc", "domain": [{"year": 2018, "month": 12, "date": 14, "hours": 8, "utc": true}, {"year": 2020, "month": 1, "date": 15, "hours": 5, "minutes": 30, "utc": true}]},
             "axis": {"labelExpr": "utcFormat(datum.value, '%b')", "tickCount": {"interval": "month", "step": 1}, "grid": true, "gridDash": [4, 3], "gridColor": "#b0b0b0", "gridWidth": 0.8, "labelPadding": 8}}}},
        {"transform": [{"filter": "indexof(datum.f, 'A') >= 0"}],
         "mark": {"type": "point", "shape": "M-1,-1L1,1M-1,1L1,-1", "filled": false, "stroke": "#b22222", "strokeWidth": 1.8, "size": 361, "opacity": 1, "clip": true},
         "encoding": {"x": {"field": "t", "type": "temporal", "axis": null}}},
        {"transform": [{"filter": "indexof(datum.f, 'B') >= 0"}],
         "mark": {"type": "point", "shape": "M0,0L0,1M0,0L-0.866,-0.5M0,0L0.866,-0.5", "filled": false, "stroke": "#f4a230", "strokeWidth": 1.8, "size": 324, "opacity": 1, "clip": true},
         "encoding": {"x": {"field": "t", "type": "temporal", "axis": null}}},
        {"transform": [{"filter": "indexof(datum.f, 'C') >= 0"}],
         "mark": {"type": "point", "shape": "M-1,0L1,0M0,-1L0,1", "filled": false, "stroke": "#0f8a8c", "strokeWidth": 1.8, "size": 324, "opacity": 1, "clip": true},
         "encoding": {"x": {"field": "t", "type": "temporal", "axis": {"orient": "top", "labels": false, "ticks": false, "domain": false, "grid": false, "title": "KIT", "titlePadding": 9}}}},
        {"data": {"name": "lg"},
         "mark": {"type": "point", "opacity": 0, "clip": true},
         "encoding": {
           "x": {"field": "t", "type": "temporal", "axis": null},
           "shape": {"field": "s", "type": "nominal", "scale": {"domain": ["Synth. Obs.", "ffCO₂\u2002≥\u20024 ppm (A)", "ffCO\u2002≥\u200240 ppb (B)", "nuc¹⁴C\u2002≤\u20021 ppm (C)"], "range": ["M0.53,0A0.53,0.53 0 1,1 -0.53,0A0.53,0.53 0 1,1 0.53,0Z", "M-1,-1L1,1M-1,1L1,-1", "M0,0L0,0.95M0,0L-0.823,-0.475M0,0L0.823,-0.475", "M-0.95,0L0.95,0M0,-0.95L0,0.95"]}, "legend": {"title": null}},
           "fill": {"field": "s", "type": "nominal", "scale": {"domain": ["Synth. Obs.", "ffCO₂\u2002≥\u20024 ppm (A)", "ffCO\u2002≥\u200240 ppb (B)", "nuc¹⁴C\u2002≤\u20021 ppm (C)"], "range": ["rgba(61,86,99,0.6)", "transparent", "transparent", "transparent"]}, "legend": {"title": null}},
           "stroke": {"field": "s", "type": "nominal", "scale": {"domain": ["Synth. Obs.", "ffCO₂\u2002≥\u20024 ppm (A)", "ffCO\u2002≥\u200240 ppb (B)", "nuc¹⁴C\u2002≤\u20021 ppm (C)"], "range": ["rgba(61,86,99,0.6)", "#b22222", "#f4a230", "#0f8a8c"]}, "legend": {"title": null}}
         }}
      ]
    },
    {
      "width": 1230,
      "height": 85.4,
      "view": {"stroke": null},
      "data": {"name": "tabB"},
      "transform": [{"fold": ["Criteria", "Jan", "Feb", "Mar", "Apr", "May", "Jun", "Jul", "Aug", "Sep", "Oct", "Nov", "Dec"], "as": ["col", "txt"]}],
      "encoding": {
        "x": {"field": "col", "type": "ordinal", "sort": ["Criteria", "Jan", "Feb", "Mar", "Apr", "May", "Jun", "Jul", "Aug", "Sep", "Oct", "Nov", "Dec"], "scale": {"paddingInner": 0, "paddingOuter": 0}, "axis": null},
        "y": {"field": "row", "type": "ordinal", "sort": ["h", "A", "AB", "AC"], "scale": {"paddingInner": 0, "paddingOuter": 0}, "axis": null}
      },
      "layer": [
        {"mark": {"type": "rect", "fill": "white", "stroke": "black", "strokeWidth": 1.3}},
        {"mark": {"type": "text", "fontSize": 18.5, "font": "DejaVu Sans", "color": "black", "align": "center", "baseline": "middle"}, "encoding": {"text": {"field": "txt"}}}
      ]
    }
  ]
}
